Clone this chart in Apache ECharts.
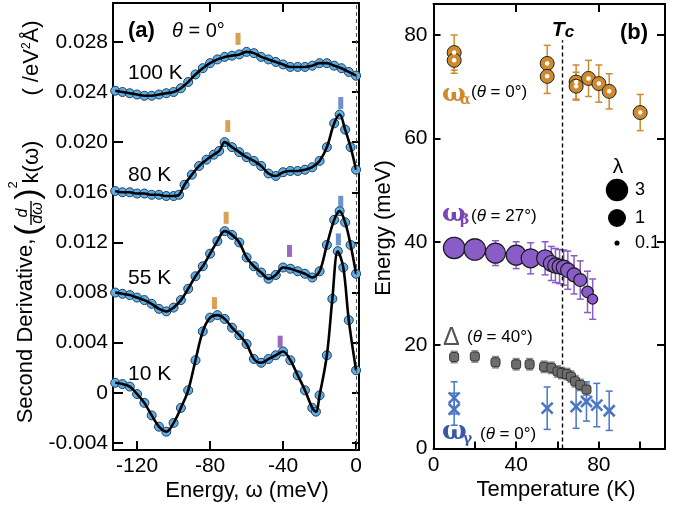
<!DOCTYPE html>
<html>
<head>
<meta charset="utf-8">
<script src="https://cdn.jsdelivr.net/npm/echarts@6.0.0/dist/echarts.min.js"></script>
<style>
html,body{margin:0;padding:0;background:#ffffff;}
#chart{width:675px;height:507px;}
</style>
</head>
<body>
<div id="chart"></div>
<script>
// ================= Panel (a): second-derivative spectra =================
const energy100K = [-132,-128,-124,-120,-116,-112,-108,-104,-100,-96,-92,-88,-84,-80,-76,-72,-68,-64,-60,-56,-52,-48,-44,-40,-36,-32,-28,-24,-20,-16,-12,-8,-4,0];
const deriv100K  = [0.0241,0.0240,0.0239,0.0238,0.0237,0.0237,0.0238,0.0239,0.0240,0.0243,0.0248,0.0254,0.0259,0.0263,0.0266,0.0268,0.0269,0.0270,0.0272,0.0271,0.0268,0.0266,0.0264,0.0262,0.0260,0.0260,0.0260,0.0261,0.0263,0.0263,0.0261,0.0259,0.0256,0.0253];

const energy80K = [-132,-128,-124,-120,-116,-112,-108,-104,-100,-97,-94,-90,-86,-82,-78,-75,-72,-68,-64,-60,-56,-52,-48,-44,-40,-36,-32,-28,-24,-20,-16,-12,-9,-6,-3,0];
const deriv80K  = [0.0161,0.0160,0.0160,0.0159,0.0159,0.0158,0.0158,0.0157,0.0157,0.0158,0.0166,0.0174,0.0181,0.0186,0.0190,0.0193,0.0200,0.0196,0.0192,0.0188,0.0185,0.0181,0.0175,0.0173,0.0176,0.0177,0.0177,0.0178,0.0180,0.0185,0.0196,0.0215,0.0222,0.0210,0.0196,0.0178];

const energy55K = [-132,-128,-124,-120,-116,-112,-108,-104,-100,-96,-92,-88,-84,-80,-76,-72,-68,-64,-60,-56,-52,-48,-44,-40,-36,-32,-28,-24,-20,-16,-12,-9,-6,-3,0];
const deriv55K  = [0.0080,0.0079,0.0078,0.0076,0.0074,0.0071,0.0067,0.0065,0.0068,0.0074,0.0083,0.0093,0.0101,0.0111,0.0121,0.0129,0.0126,0.0120,0.0108,0.0101,0.0096,0.0091,0.0094,0.0100,0.0099,0.0097,0.0095,0.0092,0.0097,0.0118,0.0138,0.0145,0.0136,0.0118,0.0095];

const energy10K = [-132,-128,-124,-120,-116,-112,-108,-104,-100,-96,-92,-88,-84,-80,-76,-72,-68,-64,-60,-56,-52,-48,-44,-40,-36,-32,-28,-24,-22,-20,-16,-13,-10,-7,-4,0];
const deriv10K  = [0.0008,0.0007,0.0005,-0.0001,-0.0008,-0.0018,-0.0027,-0.0031,-0.0024,-0.0012,0.0002,0.0026,0.0049,0.0060,0.0062,0.0059,0.0052,0.0046,0.0039,0.0027,0.0024,0.0027,0.0030,0.0033,0.0026,0.0014,0.0002,-0.0012,-0.0015,-0.0002,0.0030,0.0075,0.0113,0.0100,0.0058,0.0018];

// mode markers in panel (a)
const alphaMarkE = [-64.7, -70.3, -71.2, -77.6];
const alphaMarkV = [0.02824, 0.02128, 0.01396, 0.00716];
const betaMarkE  = [-36.5, -41.6];
const betaMarkV  = [0.01132, 0.00408];
const gammaMarkE = [-8.4, -8.4, -9.7];
const gammaMarkV = [0.02312, 0.01524, 0.01224];

const xTicksA = [-120, -80, -40, 0];
const xTopTicksA = [-80, -40];
const yTicksA = [-0.004, 0, 0.004, 0.008, 0.012, 0.016, 0.020, 0.024, 0.028];

// ================= Panel (b): mode energies vs temperature =================
const alphaT   = [10, 10, 55, 55, 69, 69, 75, 80, 85, 100];
const alphaE   = [76.6, 75.1, 74.5, 72.0, 70.9, 70.1, 71.6, 70.6, 69.1, 65.0];
const alphaErr = [3.4, 2.5, 3.5, 3.3, 3.3, 2.7, 3.5, 3.6, 3.4, 3.5];

const betaT      = [10, 20, 30, 40, 47, 54, 57, 59, 61, 63, 65, 68, 71, 74.5, 77];
const betaE      = [38.8, 38.5, 37.8, 37.4, 36.8, 36.8, 35.8, 35.4, 35.2, 35.0, 34.5, 33.6, 32.6, 30.3, 28.9];
const betaErr    = [2.0, 2.0, 2.4, 2.6, 3.0, 3.2, 3.3, 3.3, 3.3, 3.4, 3.7, 3.7, 3.7, 4.0, 3.9];
const betaLambda = [2.4, 2.4, 1.7, 1.7, 1.3, 0.9, 0.8, 0.76, 0.72, 0.72, 0.68, 0.63, 0.55, 0.44, 0.34];

const gapT   = [10, 20, 30, 40, 46.5, 53.5, 57, 60, 62, 64.5, 66.5, 68.5, 71, 74];
const gapE   = [17.7, 17.8, 16.7, 16.3, 16.3, 15.8, 15.6, 14.9, 14.6, 14.4, 13.9, 13.0, 12.3, 11.4];
const gapErr = [1.1, 1.1, 1.1, 1.1, 1.1, 1.1, 1.1, 1.1, 1.1, 1.1, 1.1, 1.1, 1.1, 1.1];

const gammaT   = [10, 10, 55, 69, 74, 79, 85];
const gammaE   = [9.8, 7.6, 7.8, 8.1, 9.1, 8.4, 7.3];
const gammaErr = [3.1, 3.1, 4.1, 4.2, 3.8, 4.2, 3.8];

const Tc = 62.5;
const lambdaLegend = [3, 1, 0.1];

const xTicksB = [0, 20, 40, 60, 80, 100];
const xLabelsB = [0, 40, 80];
const xTopTicksB = [40, 80];
const yTicksB = [0, 20, 40, 60, 80];
const yRightTicksB = [20, 40, 60, 80];

// ================= styles =================
const FONT = '"Liberation Sans", Arial, Helvetica, sans-serif';
const SERIF = '"DejaVu Serif", "Liberation Serif", serif';
const ORANGE = '#cf8a2e', PURPLE = '#8a5cc7', PURPLE_T = '#7a46b6', GRAY = '#6d6d6d', BLUE = '#4a76c4', BLUE_T = '#3a58a8';
const PT_FILL = '#5fb0e4', PT_EDGE = '#1c3f68';

const zip = (a, b) => a.map((v, i) => [v, b[i]]);
const lamSize = l => l >= 1 ? 18 * Math.pow(l, 0.2) : 18 * Math.pow(l, 0.55);

const axLine = {show: true, onZero: false, lineStyle: {color: '#000', width: 2}};
const tickStyle = {color: '#000', width: 2};
const lblStyle = {color: '#000', fontSize: 21, fontFamily: FONT};

function curveSeries(E, V) {
  return [
    {type: 'scatter', xAxisIndex: 0, yAxisIndex: 0, data: zip(E, V), symbol: 'circle', symbolSize: 9,
     itemStyle: {color: PT_FILL, borderColor: PT_EDGE, borderWidth: 1, opacity: 1}, z: 2, silent: true},
    {type: 'line', xAxisIndex: 0, yAxisIndex: 0, data: zip(E, V), smooth: 0.35, showSymbol: false,
     lineStyle: {color: '#000', width: 2.6}, z: 3, silent: true}
  ];
}
function markSeries(E, V, color) {
  return {type: 'scatter', xAxisIndex: 0, yAxisIndex: 0, data: zip(E, V), symbol: 'rect', symbolSize: [5, 12],
          itemStyle: {color: color}, z: 4, silent: true};
}
function errSeries(T, E, err, color, cross) {
  return {
    type: 'custom', xAxisIndex: 2, yAxisIndex: 2, silent: true, z: 3,
    data: T.map((t, i) => [t, E[i], err[i]]),
    renderItem: function (params, api) {
      const x = api.value(0), y = api.value(1), e = api.value(2);
      const top = api.coord([x, y + e]), bot = api.coord([x, y - e]), c = api.coord([x, y]);
      const w = 3.5, st = {stroke: color, lineWidth: 1.5};
      const ch = [
        {type: 'line', shape: {x1: top[0], y1: top[1], x2: bot[0], y2: bot[1]}, style: st},
        {type: 'line', shape: {x1: top[0] - w, y1: top[1], x2: top[0] + w, y2: top[1]}, style: st},
        {type: 'line', shape: {x1: bot[0] - w, y1: bot[1], x2: bot[0] + w, y2: bot[1]}, style: st}
      ];
      if (cross) {
        const s = 5.5, cs = {stroke: color, lineWidth: 2.6};
        ch.push({type: 'line', shape: {x1: c[0] - s, y1: c[1] - s, x2: c[0] + s, y2: c[1] + s}, style: cs});
        ch.push({type: 'line', shape: {x1: c[0] - s, y1: c[1] + s, x2: c[0] + s, y2: c[1] - s}, style: cs});
      }
      return {type: 'group', children: ch};
    }
  };
}

function T(x, y, text, o) {
  o = o || {};
  return {
    type: 'text', x: x, y: y, rotation: o.rot || 0, z: 100, silent: true,
    style: Object.assign({
      text: text, fill: o.color || '#000', fontSize: o.size || 21, fontFamily: o.family || FONT,
      fontWeight: o.weight || 'normal', fontStyle: o.style || 'normal',
      align: o.align || 'left', verticalAlign: o.va || 'middle',
      textAlign: o.align || 'left', textVerticalAlign: o.va || 'middle'
    }, o.extra || {})
  };
}
const R = Math.PI / 2;
const ital = sz => ({rich: {i: {fontStyle: 'italic', fontSize: sz, fontFamily: FONT}}});

const graphics = [
  // panel (a) annotations
  T(128, 31, '(a)', {weight: 'bold', size: 22}),
  T(172, 31, '{i|θ} = 0°', {size: 20, extra: ital(20)}),
  T(128, 73, '100 K'), T(128, 175, '80 K'), T(128, 278, '55 K'), T(128, 374, '10 K'),
  T(247, 491, 'Energy, ω (meV)', {align: 'center', size: 22}),
  // panel (a) y title
  T(26, 331, 'Second Derivative,', {rot: R, align: 'center', size: 22}),
  T(29, 230, '(', {rot: R, align: 'center', size: 34}),
  T(23, 213, 'd', {rot: R, align: 'center', size: 16, style: 'italic'}),
  T(38, 213, 'dω', {rot: R, align: 'center', size: 16, style: 'italic'}),
  {type: 'line', z: 100, shape: {x1: 31, y1: 225, x2: 31, y2: 201}, style: {stroke: '#000', lineWidth: 1.4}},
  T(29, 194, ')', {rot: R, align: 'center', size: 34}),
  T(13, 185, '2', {rot: R, align: 'center', size: 13}),
  T(32, 162, 'k(ω)', {rot: R, align: 'center', size: 22}),
  T(32, 58, '( /eV{s|2}Å)', {rot: R, align: 'center', size: 22,
    extra: {rich: {s: {fontSize: 12, verticalAlign: 'top', fontFamily: FONT}}}}),
  // panel (b) annotations
  T(563, 30, 'T{c|c}', {align: 'center', size: 21, weight: 'bold', style: 'italic',
    extra: {rich: {c: {fontSize: 17, fontWeight: 'bold', fontStyle: 'italic', fontFamily: FONT, verticalAlign: 'bottom'}}}}),
  T(634, 33, '(b)', {align: 'center', weight: 'bold', size: 22}),
  T(556, 490, 'Temperature (K)', {align: 'center', size: 22}),
  T(384, 228, 'Energy (meV)', {rot: R, align: 'center', size: 22}),
  // mode labels
  T(442, 94, 'ω', {color: ORANGE, size: 25, weight: 'bold', family: SERIF}),
  T(460, 100, 'α', {color: ORANGE, size: 14, weight: 'bold', family: SERIF}),
  T(471, 92, '({i|θ} = 0°)', {size: 17, extra: ital(17)}),
  T(442, 214, 'ω', {color: PURPLE_T, size: 25, weight: 'bold', family: SERIF}),
  T(460, 220, 'β', {color: PURPLE_T, size: 14, weight: 'bold', family: SERIF}),
  T(471, 216, '({i|θ} = 27°)', {size: 17, extra: ital(17)}),
  T(443, 338, 'Δ', {color: '#555', size: 25}),
  T(467, 337, '({i|θ} = 40°)', {size: 17, extra: ital(17)}),
  T(442, 432, 'ω', {color: BLUE_T, size: 26, weight: 'bold', family: SERIF}),
  T(463, 439, 'γ', {color: BLUE_T, size: 14, weight: 'bold', family: SERIF}),
  T(480, 434, '({i|θ} = 0°)', {size: 17, extra: ital(17)}),
  // lambda legend
  T(618, 167, 'λ', {align: 'center', size: 21}),
  {type: 'circle', z: 100, shape: {cx: 617, cy: 190, r: lamSize(lambdaLegend[0]) / 2}, style: {fill: '#000'}},
  {type: 'circle', z: 100, shape: {cx: 617, cy: 218, r: lamSize(lambdaLegend[1]) / 2}, style: {fill: '#000'}},
  {type: 'circle', z: 100, shape: {cx: 617, cy: 243, r: lamSize(lambdaLegend[2]) / 2}, style: {fill: '#000'}},
  T(635, 190, String(lambdaLegend[0]), {size: 18}),
  T(635, 218, String(lambdaLegend[1]), {size: 18}),
  T(635, 243, String(lambdaLegend[2]), {size: 18})
];

const series = [].concat(
  curveSeries(energy100K, deriv100K),
  curveSeries(energy80K, deriv80K),
  curveSeries(energy55K, deriv55K),
  curveSeries(energy10K, deriv10K),
  [
    markSeries(alphaMarkE, alphaMarkV, ORANGE),
    markSeries(betaMarkE, betaMarkV, PURPLE_T),
    markSeries(gammaMarkE, gammaMarkV, BLUE),
    {type: 'line', xAxisIndex: 0, yAxisIndex: 0, data: [], silent: true,
     markLine: {silent: true, symbol: ['none', 'none'], label: {show: false},
                lineStyle: {type: [4, 3], color: '#555', width: 1}, data: [{xAxis: 0}]}},
    // panel (b)
    errSeries(alphaT, alphaE, alphaErr, ORANGE, false),
    errSeries(betaT, betaE, betaErr, PURPLE, false),
    errSeries(gapT, gapE, gapErr, '#8a8a8a', false),
    errSeries(gammaT, gammaE, gammaErr, BLUE, true),
    {type: 'scatter', xAxisIndex: 2, yAxisIndex: 2, data: zip(alphaT, alphaE), symbol: 'circle', symbolSize: 14,
     itemStyle: {color: ORANGE, borderColor: '#222', borderWidth: 1, opacity: 1}, z: 5, silent: true},
    {type: 'scatter', xAxisIndex: 2, yAxisIndex: 2, data: zip(alphaT, alphaE), symbol: 'circle', symbolSize: 4.5,
     itemStyle: {color: '#fff', opacity: 1}, z: 6, silent: true},
    {type: 'scatter', xAxisIndex: 2, yAxisIndex: 2, data: betaT.map((t, i) => [t, betaE[i], betaLambda[i]]),
     symbol: 'circle', symbolSize: v => lamSize(v[2]),
     itemStyle: {color: PURPLE, borderColor: '#1a1a1a', borderWidth: 1.2, opacity: 1}, z: 5, silent: true,
     markLine: {silent: true, symbol: ['none', 'none'], label: {show: false},
                lineStyle: {type: [4, 3], color: '#000', width: 1.4},
                data: [[{coord: [Tc, 0]}, {coord: [Tc, 79]}]]}},
    {type: 'scatter', xAxisIndex: 2, yAxisIndex: 2, data: zip(gapT, gapE), symbol: 'roundRect', symbolSize: 9,
     itemStyle: {color: GRAY, borderColor: '#333', borderWidth: 1, opacity: 1}, z: 5, silent: true}
  ]
);

const option = {
  backgroundColor: '#ffffff',
  animation: false,
  grid: [
    {left: 113, top: 3, width: 246, height: 447, containLabel: false, outerBoundsMode: 'none'},
    {left: 433.5, top: 4, width: 231.5, height: 444.5, containLabel: false, outerBoundsMode: 'none'}
  ],
  xAxis: [
    {gridIndex: 0, type: 'value', min: -133.2, max: 1.6, position: 'bottom', axisLine: axLine,
     axisTick: {show: true, inside: true, length: 9, customValues: xTicksA, lineStyle: tickStyle},
     axisLabel: Object.assign({show: true, customValues: xTicksA, margin: 6}, lblStyle),
     splitLine: {show: false}},
    {gridIndex: 0, type: 'value', min: -133.2, max: 1.6, position: 'top', axisLine: axLine,
     axisTick: {show: true, inside: true, length: 9, customValues: xTopTicksA, lineStyle: tickStyle},
     axisLabel: {show: false}, splitLine: {show: false}},
    {gridIndex: 1, type: 'value', min: 0, max: 112, position: 'bottom', axisLine: axLine,
     axisTick: {show: true, inside: true, length: 7, customValues: xTicksB, lineStyle: tickStyle},
     axisLabel: Object.assign({show: true, customValues: xLabelsB, margin: 6}, lblStyle),
     splitLine: {show: false}},
    {gridIndex: 1, type: 'value', min: 0, max: 112, position: 'top', axisLine: axLine,
     axisTick: {show: true, inside: true, length: 8, customValues: xTopTicksB, lineStyle: tickStyle},
     axisLabel: {show: false}, splitLine: {show: false}}
  ],
  yAxis: [
    {gridIndex: 0, type: 'value', min: -0.00456, max: 0.0311, position: 'left', axisLine: axLine,
     axisTick: {show: true, inside: true, length: 10, customValues: yTicksA, lineStyle: tickStyle},
     axisLabel: Object.assign({show: true, customValues: yTicksA, margin: 5,
       formatter: v => (Math.abs(v) < 1e-9 ? '0' : v.toFixed(3))}, lblStyle),
     splitLine: {show: false}},
    {gridIndex: 0, type: 'value', min: -0.00456, max: 0.0311, position: 'right', axisLine: axLine,
     axisTick: {show: true, inside: true, length: 7, customValues: yTicksA, lineStyle: tickStyle},
     axisLabel: {show: false}, splitLine: {show: false}},
    {gridIndex: 1, type: 'value', min: 0, max: 86, position: 'left', axisLine: axLine,
     axisTick: {show: true, inside: true, length: 7, customValues: yTicksB, lineStyle: tickStyle},
     axisLabel: Object.assign({show: true, customValues: yTicksB, margin: 6}, lblStyle),
     splitLine: {show: false}},
    {gridIndex: 1, type: 'value', min: 0, max: 86, position: 'right', axisLine: axLine,
     axisTick: {show: true, inside: true, length: 8, customValues: yRightTicksB, lineStyle: tickStyle},
     axisLabel: {show: false}, splitLine: {show: false}}
  ],
  series: series,
  graphic: {elements: graphics}
};

const chart = echarts.init(document.getElementById('chart'), null, {renderer: 'canvas'});
chart.setOption(option);
</script>
</body>
</html>
